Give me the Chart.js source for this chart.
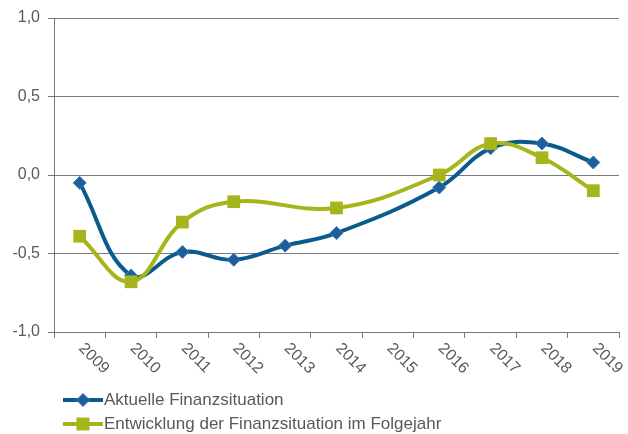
<!DOCTYPE html>
<html><head><meta charset="utf-8">
<script src="https://cdn.jsdelivr.net/npm/chart.js@4/dist/chart.umd.min.js"></script>
<style>
html,body{margin:0;padding:0;background:#fff;}
#wrap{position:relative;width:628px;height:434px;}
#legend{position:absolute;left:63px;top:388px;font:17px "Liberation Sans",Arial,sans-serif;color:#595959;}
.item{display:flex;align-items:center;height:24px;white-space:nowrap;}
.item svg{margin-right:1px;}
</style></head><body>
<div id="wrap"><canvas id="c" width="628" height="434"></canvas>
<div id="legend"></div></div>
<script>
const categories = ['2009','2010','2011','2012','2013','2014','2015','2016','2017','2018','2019'];
const aktuelle = [-0.05,-0.64,-0.49,-0.54,-0.45,-0.37,null,-0.08,0.17,0.20,0.08];
const folgejahr = [-0.39,-0.68,-0.30,-0.17,null,-0.21,null,0.00,0.20,0.11,-0.10];
const yTickValues = [-1,-0.5,0,0.5,1];
const seriesNames = ['Aktuelle Finanzsituation','Entwicklung der Finanzsituation im Folgejahr'];

const BLUE = '#0A5A8C', BLUE_PT = '#1D5F9C', GREEN = '#A6B51C';
const FONT = '"Liberation Sans", Arial, sans-serif';
const TXT = '#595959', AX = '#777a7e';

const xLabels = {
  id: 'xLabels',
  afterDraw(chart) {
    const ctx = chart.ctx, xs = chart.scales.x;
    ctx.save();
    ctx.font = '16px ' + FONT;
    ctx.fillStyle = TXT;
    ctx.textAlign = 'left';
    ctx.textBaseline = 'middle';
    categories.forEach((c, i) => {
      const x = xs.getPixelForValue(i);
      ctx.save();
      ctx.translate(x + 1.5, xs.top + 14);
      ctx.rotate(Math.PI / 4);
      ctx.fillText(c, 0, 0);
      ctx.restore();
    });
    ctx.restore();
  }
};

new Chart(document.getElementById('c'), {
  type: 'line',
  data: {
    labels: categories,
    datasets: [
      { label: seriesNames[0], data: aktuelle, borderColor: BLUE, backgroundColor: BLUE_PT,
        pointBackgroundColor: BLUE_PT, pointBorderColor: '#3b78b4', pointBorderWidth: 1,
        pointStyle: 'rectRot', pointRadius: 6.5, borderWidth: 4, tension: 0.4, spanGaps: true, order: 1 },
      { label: seriesNames[1], data: folgejahr, borderColor: GREEN, backgroundColor: GREEN,
        pointBackgroundColor: GREEN, pointBorderColor: GREEN, pointBorderWidth: 0,
        pointStyle: 'rect', pointRadius: 9, borderWidth: 4, tension: 0.4, spanGaps: true, order: 0 }
    ]
  },
  options: {
    responsive: false, animation: false, devicePixelRatio: 1,
    layout: { padding: { top: 18, right: 6, left: 0, bottom: 0 } },
    plugins: { legend: { display: false }, tooltip: { enabled: false } },
    scales: {
      x: {
        offset: true,
        grid: { offset: true, drawOnChartArea: false, drawTicks: true, tickLength: 6, color: AX },
        border: { display: true, color: AX, width: 1 },
        ticks: { display: false },
        afterFit(s) { s.height = 102; }
      },
      y: {
        min: -1, max: 1,
        afterBuildTicks(s) { s.ticks = yTickValues.map(v => ({ value: v })); },
        ticks: { callback: v => v.toFixed(1).replace('.', ','), font: { family: FONT, size: 16 }, color: TXT, padding: 8 },
        grid: { color: AX, tickLength: 6, lineWidth: 1 },
        border: { display: true, color: AX, width: 1 },
        afterFit(s) { s.width = 54; }
      }
    }
  },
  plugins: [xLabels]
});

const legend = document.getElementById('legend');
legend.innerHTML =
  '<div class="item"><svg width="40" height="14"><line x1="0" y1="7" x2="40" y2="7" stroke="' + BLUE + '" stroke-width="4"/><polygon points="20,0.5 26.5,7 20,13.5 13.5,7" fill="' + BLUE_PT + '" stroke="#3b78b4" stroke-width="1"/></svg><span>' + seriesNames[0] + '</span></div>' +
  '<div class="item"><svg width="40" height="14"><line x1="0" y1="7" x2="40" y2="7" stroke="' + GREEN + '" stroke-width="4"/><rect x="13.5" y="0.5" width="13" height="13" fill="' + GREEN + '"/></svg><span>' + seriesNames[1] + '</span></div>';
</script>
</body></html>
